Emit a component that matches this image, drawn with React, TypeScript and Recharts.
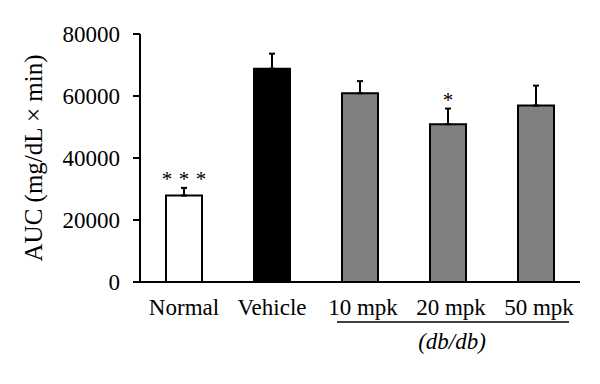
import React from 'react';
import { BarChart, Bar, XAxis, YAxis, ErrorBar, Cell, LabelList } from 'recharts';

const categories = ['Normal', 'Vehicle', '10 mpk', '20 mpk', '50 mpk'];
const aucMeans = [27900, 68800, 60900, 50900, 56900];
const aucErrors = [2450, 4850, 3900, 5050, 6450];
const significance = ['***', '', '', '*', ''];
const barFills = ['#ffffff', '#000000', '#808080', '#808080', '#808080'];
const yTicks = [0, 20000, 40000, 60000, 80000];
const groupMembers = ['10 mpk', '20 mpk', '50 mpk'];
const groupLabel = '(db/db)';
const yLabel = 'AUC (mg/dL \u00d7 min)';

const data = categories.map((c, i) => ({
  name: c,
  auc: aucMeans[i],
  err: [0, aucErrors[i]],
  sig: significance[i],
}));

const FONT = '"Liberation Serif", "DejaVu Serif", serif';

const XTick = (props: any) => {
  const { x, y, payload } = props;
  const name = payload.value as string;
  const gi = groupMembers.indexOf(name);
  let line = null;
  if (gi >= 0) {
    const x1 = gi === 0 ? x - 23 : x - 44;
    const x2 = gi === groupMembers.length - 1 ? x + 33 : x + 44;
    line = <line x1={x1} x2={x2} y1={y + 40} y2={y + 40} stroke="#000" strokeWidth={1.5} />;
  }
  return (
    <g>
      <text x={gi >= 0 ? x + 3 : x} y={y + 33} textAnchor="middle" fontSize={23} fontFamily={FONT} fill="#000">
        {name}
      </text>
      {line}
      {gi === 1 ? (
        <text x={x + 4} y={y + 67} textAnchor="middle" fontSize={23} fontStyle="italic" fontFamily={FONT} fill="#000">
          {groupLabel}
        </text>
      ) : null}
    </g>
  );
};

const StarLabel = (props: any) => {
  const { x, y, width, height, index } = props;
  const s = significance[index];
  if (!s) return null;
  const errPx = (aucErrors[index] * height) / aucMeans[index];
  const cx = x + width / 2;
  const n = s.length;
  const gap = 17;
  return (
    <g>
      {s.split('').map((ch, k) => (
        <text
          key={k}
          x={cx + (k - (n - 1) / 2) * gap}
          y={y - errPx - 2}
          textAnchor="middle"
          fontSize={21}
          fontFamily={FONT}
          fill="#000"
        >
          {ch}
        </text>
      ))}
    </g>
  );
};

export default function App() {
  return (
    <div style={{ position: 'absolute', left: 0, top: 0, width: 600, height: 384, background: '#fff' }}>
      <BarChart
        width={600}
        height={384}
        data={data}
        margin={{ top: 34, right: 20, left: 0, bottom: 72 }}
        barSize={36}
      >
        <XAxis
          dataKey="name"
          height={30}
          tickLine={false}
          tickSize={0}
          tickMargin={0}
          axisLine={{ stroke: '#000', strokeWidth: 2 }}
          tick={<XTick />}
          interval={0}
        />
        <YAxis
          width={140}
          domain={[0, 80000]}
          ticks={yTicks}
          tickSize={7}
          tickMargin={13}
          axisLine={{ stroke: '#000', strokeWidth: 2 }}
          tickLine={{ stroke: '#000', strokeWidth: 2 }}
          tick={{ fill: '#000', fontSize: 23, fontFamily: FONT }}
          label={{
            value: yLabel,
            angle: -90,
            position: 'insideLeft',
            offset: 33,
            style: { textAnchor: 'middle', fontSize: 25, fontFamily: FONT, fill: '#000' },
          }}
        />
        <Bar dataKey="auc" stroke="#000" strokeWidth={2} isAnimationActive={false}>
          {data.map((d, i) => (
            <Cell key={d.name} fill={barFills[i]} />
          ))}
          <ErrorBar dataKey="err" width={3} stroke="#000" strokeWidth={2} direction="y" />
          <LabelList dataKey="sig" content={<StarLabel />} />
        </Bar>
      </BarChart>
    </div>
  );
}
